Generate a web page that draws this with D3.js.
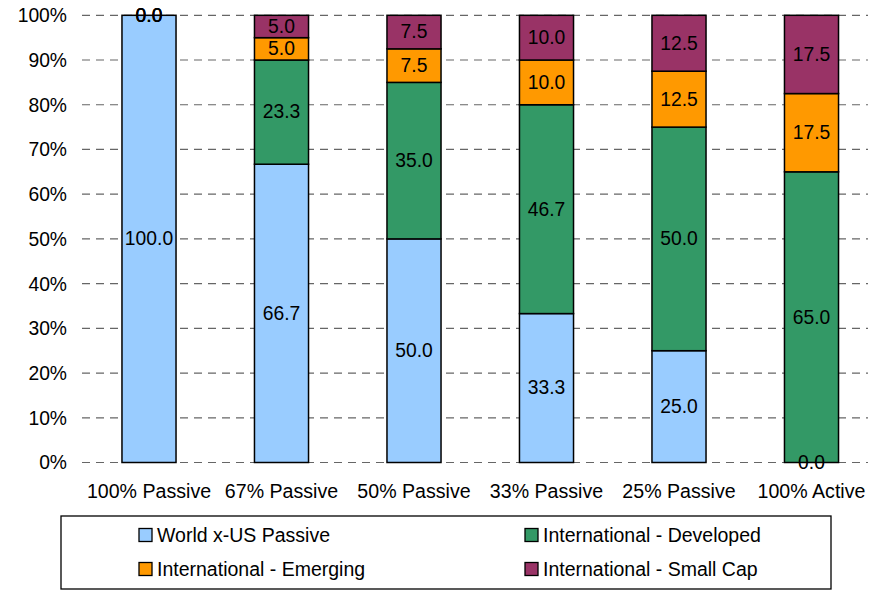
<!DOCTYPE html>
<html><head><meta charset="utf-8">
<script src="https://cdn.jsdelivr.net/npm/d3@7"></script>
<style>html,body{margin:0;padding:0;background:#fff;}svg{display:block;font-family:"Liberation Sans",Arial,sans-serif;}</style>
</head><body>
<svg id="c" width="884" height="590"></svg>
<script>
const categories = ["100% Passive","67% Passive","50% Passive","33% Passive","25% Passive","100% Active"];
const seriesNames = ["World x-US Passive","International - Developed","International - Emerging","International - Small Cap"];
const worldPassive = [100.0, 66.7, 50.0, 33.3, 25.0, 0.0];
const intlDeveloped = [0.0, 23.3, 35.0, 46.7, 50.0, 65.0];
const intlEmerging = [0.0, 5.0, 7.5, 10.0, 12.5, 17.5];
const intlSmallCap = [0.0, 5.0, 7.5, 10.0, 12.5, 17.5];
const yTicks = [0,10,20,30,40,50,60,70,80,90,100];
const colors = ["#99CCFF","#339966","#FF9900","#993366"];

const svg = d3.select("#c");
const x = d3.scaleBand().domain(categories).range([82.75, 877.75]).paddingInner(0.592).paddingOuter(0.296);
const y = d3.scaleLinear().domain([0,100]).range([462.5, 15.3]);

// gridlines
svg.append("g").selectAll("line").data(yTicks).join("line")
  .attr("x1", 82).attr("x2", 868)
  .attr("y1", d => y(d)).attr("y2", d => y(d))
  .attr("stroke", "#666").attr("stroke-width", 1.2).attr("stroke-dasharray", "8,6");

// y axis labels
svg.append("g").selectAll("text").data(yTicks).join("text")
  .attr("x", 67).attr("y", d => y(d)).attr("dy", "0.36em")
  .attr("text-anchor", "end").attr("font-size", 19.3).attr("fill", "#000")
  .text(d => d + "%");

// stacking
const rows = categories.map((c,i) => ({cat:c, s0:worldPassive[i], s1:intlDeveloped[i], s2:intlEmerging[i], s3:intlSmallCap[i]}));
const stack = d3.stack().keys(["s0","s1","s2","s3"]);
const layers = stack(rows);

const g = svg.append("g");
layers.forEach((layer, li) => {
  g.append("g").selectAll("rect").data(layer).join("rect")
    .attr("x", d => x(d.data.cat))
    .attr("width", x.bandwidth())
    .attr("y", d => y(d[1]))
    .attr("height", d => y(d[0]) - y(d[1]))
    .attr("fill", colors[li])
    .attr("stroke", "#000").attr("stroke-width", 1.5);
});
layers.forEach((layer, li) => {
  g.append("g").selectAll("text").data(layer).join("text")
    .attr("x", d => x(d.data.cat) + x.bandwidth()/2)
    .attr("y", d => y((d[0]+d[1])/2)).attr("dy", "0.33em")
    .attr("text-anchor", "middle").attr("font-size", 19.3).attr("fill", "#000")
    .text(d => (d[1]-d[0]).toFixed(1));
});

// category labels
svg.append("g").selectAll("text").data(categories).join("text")
  .attr("x", d => x(d) + x.bandwidth()/2).attr("y", 491).attr("dy", "0.36em")
  .attr("text-anchor", "middle").attr("font-size", 19.6).attr("fill", "#000")
  .text(d => d);

// legend
svg.append("rect").attr("x", 61).attr("y", 516).attr("width", 770).attr("height", 73)
  .attr("fill", "#fff").attr("stroke", "#000").attr("stroke-width", 1.3);
const legPos = [[139,535],[525,535],[139,569],[525,569]];
const legOrder = [0,1,2,3];
const lg = svg.append("g").selectAll("g").data(legOrder).join("g")
  .attr("transform", (d,i) => `translate(${legPos[i][0]},${legPos[i][1]})`);
lg.append("rect").attr("x", 0).attr("y", -6.5).attr("width", 13).attr("height", 13)
  .attr("fill", d => colors[d]).attr("stroke", "#000").attr("stroke-width", 1.3);
lg.append("text").attr("x", 18).attr("y", 0).attr("dy", "0.36em")
  .attr("font-size", 19.5).attr("fill", "#000").text(d => seriesNames[d]);
</script>
</body></html>
